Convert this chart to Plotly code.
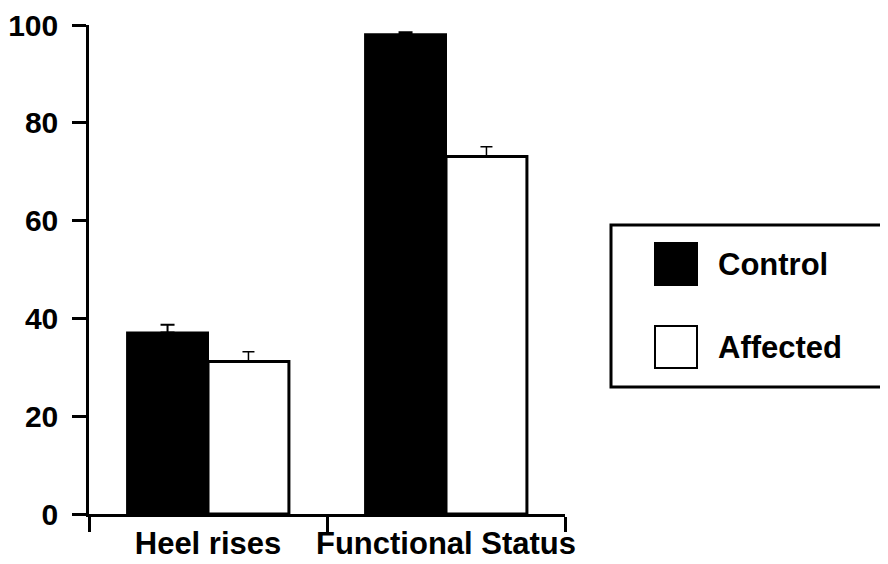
import plotly.graph_objects as go

categories = ["Heel rises", "Functional Status"]
series_names = ["Control", "Affected"]
control_values = [37.1, 98.1]
affected_values = [31.2, 73.1]
control_err = [1.6, 0.4]
affected_err = [2.0, 2.0]
y_ticks = [0, 20, 40, 60, 80, 100]

FONT = "Liberation Sans, Arial, Helvetica, sans-serif"

# The page body has an 8px default margin; size the figure to fit the window.
OFF = 8
W, H = 888 - OFF, 564 - OFF
L, R, T, B = 89 - OFF, 323, 25 - OFF, 50

fig = go.Figure()
fig.add_trace(go.Bar(
    name=series_names[0], x=categories, y=control_values,
    marker=dict(color="black", line=dict(color="black", width=2)),
    error_y=dict(type="data", array=control_err, arrayminus=[0] * len(control_err),
                 symmetric=False, color="black", thickness=2, width=7),
))
fig.add_trace(go.Bar(
    name=series_names[1], x=categories, y=affected_values,
    marker=dict(color="white", line=dict(color="black", width=3)),
    error_y=dict(type="data", array=affected_err, arrayminus=[0] * len(affected_err),
                 symmetric=False, color="black", thickness=1.5, width=6),
))

fig.update_layout(
    width=W, height=H,
    margin=dict(l=L, r=R, t=T, b=B),
    paper_bgcolor="white", plot_bgcolor="white",
    barmode="group", bargap=0.32, bargroupgap=0,
    showlegend=False,
    font=dict(family=FONT, size=30, color="black", weight="bold"),
)
fig.update_xaxes(
    range=[-0.5, 1.5], showline=True, linecolor="black", linewidth=2.5,
    ticks="outside", tickson="boundaries", ticklen=15, tickwidth=2.5, tickcolor="black",
    showgrid=False, zeroline=False, tickangle=0, automargin=False,
    tickfont=dict(family=FONT, size=31, color="black", weight="bold"),
)
fig.update_yaxes(
    range=[0, 100], showline=True, linecolor="black", linewidth=2.5,
    ticks="outside", ticklen=14, tickwidth=2.5, tickcolor="black",
    tickvals=y_ticks, showgrid=False, zeroline=False, automargin=False,
    ticklabelstandoff=8,
    tickfont=dict(family=FONT, size=30, color="black", weight="bold"),
)

# Custom legend (box with large swatches); coordinates given in window pixels
pw, ph = W - L - R, H - T - B
def px(x):
    return (x - OFF - L) / pw
def py(y):
    return (H - B - (y - OFF)) / ph

fig.add_shape(type="rect", xref="paper", yref="paper",
              x0=px(611), x1=px(900), y0=py(387), y1=py(225),
              line=dict(color="black", width=3), fillcolor="white", layer="above")
swatch_fill = ["black", "white"]
swatch_top = [243, 326]
for name, fill, top in zip(series_names, swatch_fill, swatch_top):
    fig.add_shape(type="rect", xref="paper", yref="paper",
                  x0=px(655), x1=px(697), y0=py(top + 42), y1=py(top),
                  line=dict(color="black", width=2), fillcolor=fill, layer="above")
    fig.add_annotation(xref="paper", yref="paper", x=px(716), y=py(top + 21),
                       text=name, showarrow=False, xanchor="left", yanchor="middle",
                       font=dict(family=FONT, size=31, color="black", weight="bold"))

fig.write_html("out.html")
